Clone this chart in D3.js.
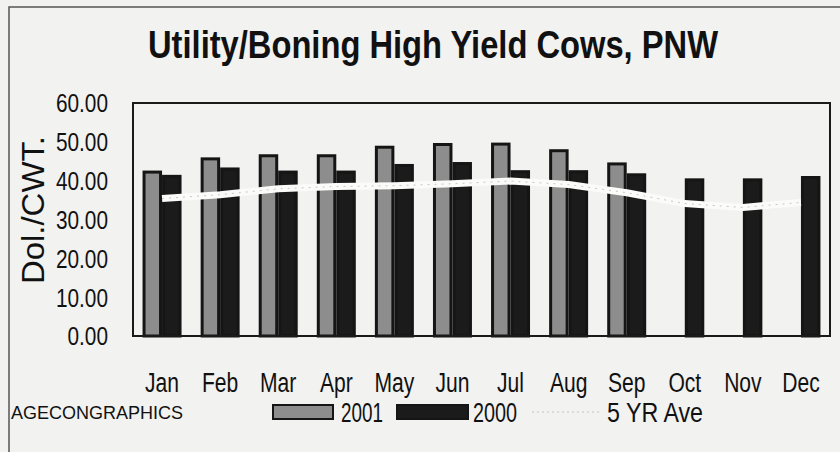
<!DOCTYPE html>
<html><head><meta charset="utf-8">
<script src="https://cdn.jsdelivr.net/npm/d3@7"></script>
<style>
html,body{margin:0;padding:0;background:#f2f2f0;}
svg{display:block;}
text{font-family:'Liberation Sans Narrow','Arial Narrow','Liberation Sans',Arial,sans-serif;fill:#111;}
</style></head>
<body>
<svg id="chart" width="840" height="452"></svg>
<script>
const months = ["Jan","Feb","Mar","Apr","May","Jun","Jul","Aug","Sep","Oct","Nov","Dec"];
const series2001 = [42.6, 46.0, 46.8, 46.8, 49.0, 49.7, 49.8, 48.1, 44.7, null, null, null];
const series2000 = [41.5, 43.4, 42.6, 42.6, 44.3, 44.8, 42.7, 42.7, 41.9, 40.6, 40.6, 41.2];
const fiveYrAve = [35.4, 36.4, 37.9, 38.5, 38.7, 39.2, 39.9, 39.0, 36.9, 34.1, 33.1, 34.4];
const yTicks = [0, 10, 20, 30, 40, 50, 60];
const seriesNames = ["2001", "2000"];
const title = "Utility/Boning High Yield Cows, PNW";
const yTitle = "Dol./CWT.";
const credit = "AGECONGRAPHICS";
const lineName = "5 YR Ave";

const svg = d3.select("#chart");
const W = 840, H = 452;
const plot = {left: 133, right: 830, top: 103, bottom: 336};

// condense text horizontally (no narrow font installed)
function condense(sel, f) {
  sel.each(function() {
    const len = this.getComputedTextLength();
    d3.select(this).attr("textLength", len * f).attr("lengthAdjust", "spacingAndGlyphs");
  });
}

svg.append("rect").attr("width", W).attr("height", H).attr("fill", "#f2f2f0");

// outer frame
svg.append("rect").attr("x", 9).attr("y", 7).attr("width", 860).attr("height", 480)
  .attr("fill", "none").attr("stroke", "#555").attr("stroke-width", 1.5);

const x = d3.scaleBand().domain(months).range([plot.left, plot.right]).padding(0);
const x1 = d3.scaleBand().domain(seriesNames).range([0, x.bandwidth()]).paddingInner(0).paddingOuter(0.49);
const y = d3.scaleLinear().domain([0, 60]).range([plot.bottom, plot.top]);

// title
svg.append("text").attr("x", 433).attr("y", 58).attr("text-anchor", "middle")
  .attr("font-size", 38).attr("font-weight", "bold")
  .attr("textLength", 570).attr("lengthAdjust", "spacingAndGlyphs")
  .text(title);

// y tick labels
svg.append("g").selectAll("text").data(yTicks).join("text")
  .attr("x", 108).attr("y", d => y(d)).attr("dy", "0.36em")
  .attr("text-anchor", "end").attr("font-size", 26)
  .text(d => d.toFixed(2))
  .call(condense, 0.8);

// y axis title
svg.append("text").attr("transform", "translate(44,210) rotate(-90)")
  .attr("text-anchor", "middle").attr("font-size", 32)
  .attr("textLength", 148).attr("lengthAdjust", "spacingAndGlyphs")
  .text(yTitle);

// month labels
svg.append("g").selectAll("text").data(months).join("text")
  .attr("x", d => x(d) + x.bandwidth() / 2).attr("y", 392)
  .attr("text-anchor", "middle").attr("font-size", 27)
  .text(d => d)
  .call(condense, 0.78);

// bars
const groups = svg.append("g").selectAll("g").data(months).join("g")
  .attr("transform", d => `translate(${x(d)},0)`);

const barData = (m, i) => [
  {name: "2001", v: series2001[i]},
  {name: "2000", v: series2000[i]}
].filter(d => d.v != null);

groups.each(function(m, i) {
  d3.select(this).selectAll("rect").data(barData(m, i)).join("rect")
    .attr("x", d => x1(d.name) + 1.5)
    .attr("width", x1.bandwidth() - 3)
    .attr("y", d => y(d.v) + 1.5)
    .attr("height", d => plot.bottom - y(d.v) - 1.5)
    .attr("fill", d => d.name === "2001" ? "#8d8d8d" : "#1b1b1b")
    .attr("stroke", "#151515").attr("stroke-width", 3);
});

// 5 YR Ave line: white band with faint dots
const lineGen = d3.line()
  .x((d, i) => x(months[i]) + x.bandwidth() / 2)
  .y(d => y(d));
svg.append("path").datum(fiveYrAve).attr("d", lineGen)
  .attr("fill", "none").attr("stroke", "#fbfbfa").attr("stroke-width", 7)
  .attr("stroke-linejoin", "round");
svg.append("path").datum(fiveYrAve).attr("d", lineGen)
  .attr("fill", "none").attr("stroke", "#b0b0b0").attr("stroke-width", 1)
  .attr("stroke-dasharray", "2,5").attr("opacity", 0.7);

// plot frame
svg.append("rect").attr("x", plot.left).attr("y", plot.top)
  .attr("width", plot.right - plot.left).attr("height", plot.bottom - plot.top)
  .attr("fill", "none").attr("stroke", "#1a1a1a").attr("stroke-width", 2);

// legend
const ly = 412;
svg.append("text").attr("x", 11).attr("y", ly + 7).attr("font-size", 19)
  .attr("textLength", 172).attr("lengthAdjust", "spacingAndGlyphs").text(credit);

svg.append("rect").attr("x", 273).attr("y", ly - 7).attr("width", 60).attr("height", 14)
  .attr("fill", "#8d8d8d").attr("stroke", "#151515").attr("stroke-width", 2);
svg.append("text").attr("x", 341).attr("y", ly + 10).attr("font-size", 28)
  .attr("textLength", 42).attr("lengthAdjust", "spacingAndGlyphs").text(seriesNames[0]);

svg.append("rect").attr("x", 397).attr("y", ly - 7).attr("width", 71).attr("height", 14)
  .attr("fill", "#1b1b1b").attr("stroke", "#151515").attr("stroke-width", 2);
svg.append("text").attr("x", 473).attr("y", ly + 10).attr("font-size", 28)
  .attr("textLength", 44).attr("lengthAdjust", "spacingAndGlyphs").text(seriesNames[1]);

svg.append("line").attr("x1", 532).attr("x2", 602).attr("y1", ly).attr("y2", ly)
  .attr("stroke", "#c4c4c4").attr("stroke-width", 1).attr("stroke-dasharray", "2,3");
svg.append("text").attr("x", 607).attr("y", ly + 10).attr("font-size", 28)
  .attr("textLength", 96).attr("lengthAdjust", "spacingAndGlyphs").text(lineName);
</script>
</body></html>
